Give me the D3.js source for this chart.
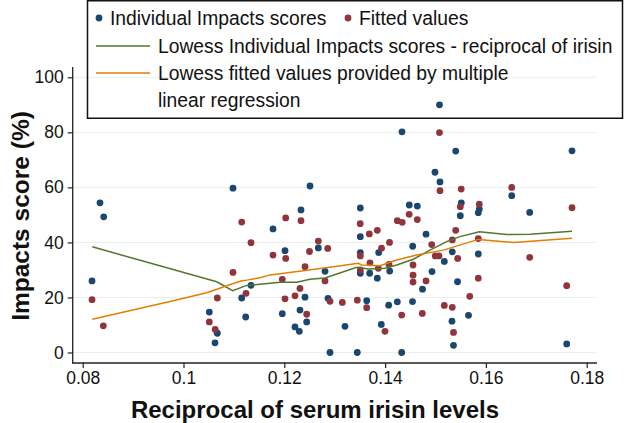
<!DOCTYPE html>
<html>
<head>
<meta charset="utf-8">
<script src="https://cdn.jsdelivr.net/npm/d3@7"></script>
<style>
  html, body { margin: 0; padding: 0; background: #fff; }
  svg { display: block; font-family: "Liberation Sans", Arial, Helvetica, sans-serif; }
</style>
</head>
<body>
<svg id="chart" width="626" height="423"></svg>
<script>
// ---- Data ----
const xTicks = [0.08, 0.10, 0.12, 0.14, 0.16, 0.18];
const xTickLabels = ["0.08", "0.1", "0.12", "0.14", "0.16", "0.18"];
const yTicks = [0, 20, 40, 60, 80, 100];
const yTickLabels = ["0", "20", "40", "60", "80", "100"];

// Individual Impacts scores: [reciprocal of irisin, score]
const impactsX = [0.08185,0.08343,0.08417,0.10982,0.11339,0.11155,0.10512,0.10671,0.10625,0.11234,
  0.12014,0.11960,0.12411,0.12311,0.12444,0.12212,0.12298,0.12510,0.12331,0.11776,
  0.12675,0.12808,0.12867,0.13204,0.12907,0.13508,0.13508,0.13508,0.13508,0.13448,
  0.13635,0.13694,0.13845,0.13873,0.13925,0.14091,0.14071,0.14242,0.14329,0.14335,
  0.14480,0.14639,0.14548,0.14544,0.14812,0.14742,0.14931,0.15079,0.14990,0.15089,
  0.15175,0.15333,0.15401,0.15512,0.15492,0.15437,0.15327,0.15357,0.15655,0.15869,
  0.15849,0.15849,0.16512,0.16869,0.17708,0.17603];
const impactsY = [26.0,54.4,49.3,59.7,24.4,19.8,14.7,7.0,3.5,12.9,
  37.0,14.1,20.1,15.4,11.1,9.3,7.7,60.5,51.8,44.9,
  38.0,29.5,19.7,9.5,0,52.5,42.1,36.3,28.8,0,
  18.8,28.8,27.0,36.3,10.2,29.6,17.2,18.4,0,80.2,
  53.6,53.2,38.6,18.5,43.0,23.0,29.4,90.0,65.5,62.0,
  33.1,36.6,73.2,54.4,49.7,25.7,11.4,2.6,13.5,52.1,
  50.8,35.8,57.0,50.9,73.3,3.1];

// Fitted values
const fittedX = [0.08185,0.08409,0.11155,0.11339,0.10982,0.11240,0.10671,0.10512,0.10629,0.11776,
  0.12028,0.12411,0.11960,0.12014,0.12212,0.12311,0.12444,0.12028,0.12331,0.12500,
  0.12675,0.12861,0.12808,0.12907,0.13151,0.13448,0.13506,0.13508,0.13508,0.13687,
  0.13845,0.13700,0.13865,0.13635,0.13929,0.14087,0.14077,0.13998,0.14242,0.14339,
  0.14478,0.14639,0.14329,0.14554,0.14554,0.14554,0.14812,0.14738,0.14925,0.15079,
  0.15089,0.14996,0.15069,0.15175,0.15333,0.15401,0.15440,0.15333,0.15357,0.15510,
  0.15492,0.15679,0.15849,0.15869,0.15849,0.16512,0.16869,0.17708,0.17603];
const fittedY = [19.2,9.7,47.4,39.9,29.1,21.5,19.8,11.1,8.4,35.4,
  34.2,31.2,26.6,19.5,20.6,23.3,13.9,48.9,47.9,36.7,
  40.5,37.8,26.0,18.6,18.2,19.0,46.8,35.1,30.0,43.1,
  44.4,32.6,30.6,16.3,37.9,40.0,32.0,7.7,47.9,47.3,
  50.2,48.3,13.6,31.8,28.1,25.6,26.0,14.2,39.2,79.9,
  58.8,35.1,35.1,17.1,40.9,44.4,34.2,16.4,7.3,59.4,
  53.0,20.4,41.4,53.9,27.0,60.0,34.6,52.6,24.3];

// Lowess of individual impacts scores
const lowessImpX = [0.08190,0.10659,0.10976,0.11240,0.11518,0.11915,0.12246,0.12510,0.12808,0.13437,
  0.13667,0.13998,0.14230,0.14560,0.14891,0.15222,0.15486,0.15869,0.16413,0.16875,0.17708];
const lowessImpY = [38.4,25.7,22.5,24.3,24.8,25.5,25.5,26.6,27.1,31.0,
  30.3,30.6,31.8,33.9,37.2,40.3,42.1,43.9,42.9,43.0,44.1];

// Lowess of fitted values
const lowessFitX = [0.08190,0.09732,0.10460,0.10591,0.10988,0.11155,0.11254,0.11518,0.11716,0.12377,
  0.12972,0.13468,0.13536,0.13899,0.14230,0.14627,0.15155,0.15849,0.16544,0.17708];
const lowessFitY = [12.1,18.5,21.7,22.5,25.1,26.1,26.3,27.2,28.2,29.7,
  31.2,32.4,31.8,31.5,33.6,35.4,37.2,41.1,40.0,41.5];

const legendLabels = ["Individual Impacts scores", "Fitted values",
  "Lowess Individual Impacts scores - reciprocal of irisin",
  ["Lowess fitted values provided by multiple", "linear regression"]];

// ---- Styling ----
const navy = "#1a476f", maroon = "#90353b", green = "#55752f", orange = "#e37e00";

const svg = d3.select("#chart");
const plot = {left: 72.7, right: 597, top: 67, bottom: 363};

const x = d3.scaleLinear().domain([0.08, 0.18]).range([82.7, 586.7]);
const y = d3.scaleLinear().domain([0, 100]).range([352.5, 77.3]);

// gridlines
svg.append("g").selectAll("line").data(yTicks).join("line")
  .attr("x1", plot.left).attr("x2", plot.right)
  .attr("y1", d => y(d)).attr("y2", d => y(d))
  .attr("stroke", "#e7eff1").attr("stroke-width", 1);

// legend box (no fill so plot shows through)
const lg = svg.append("g");
lg.append("rect").attr("x", 87.5).attr("y", 0.75).attr("width", 535).attr("height", 117.5)
  .attr("fill", "none").attr("stroke", "#111").attr("stroke-width", 1.5);

// axes
const yAxis = d3.axisLeft(y).tickValues(yTicks).tickFormat((d, i) => yTickLabels[i])
  .tickSize(5).tickPadding(4);
const gy = svg.append("g").attr("transform", `translate(${plot.left},0)`).call(yAxis);
gy.select(".domain").remove();
gy.append("line").attr("x1", 0).attr("x2", 0).attr("y1", plot.top).attr("y2", plot.bottom + 0.5)
  .attr("stroke", "#222").attr("stroke-width", 1.3);

const xAxis = d3.axisBottom(x).tickValues(xTicks).tickFormat((d, i) => xTickLabels[i])
  .tickSize(5).tickPadding(4);
const gx = svg.append("g").attr("transform", `translate(0,${plot.bottom})`).call(xAxis);
gx.select(".domain").remove();
gx.append("line").attr("x1", plot.left - 0.5).attr("x2", plot.right).attr("y1", 0).attr("y2", 0)
  .attr("stroke", "#222").attr("stroke-width", 1.3);

[gx, gy].forEach(g => {
  g.selectAll(".tick line").attr("stroke", "#222").attr("stroke-width", 1.2);
  g.selectAll(".tick text").attr("fill", "#111").style("font-size", "17.5px")
    .style("font-family", '"Liberation Sans", Arial, sans-serif');
});

// axis titles
svg.append("text").attr("x", 315).attr("y", 418).attr("text-anchor", "middle")
  .style("font-size", "24px").style("font-weight", "bold").attr("fill", "#111")
  .text("Reciprocal of serum irisin levels");
svg.append("text").attr("transform", "translate(29,216) rotate(-90)").attr("text-anchor", "middle")
  .style("font-size", "24.5px").style("font-weight", "bold").attr("fill", "#111")
  .text("Impacts score (%)");

// points
const impacts = impactsX.map((v, i) => [v, impactsY[i]]);
const fitted = fittedX.map((v, i) => [v, fittedY[i]]);
svg.append("g").selectAll("circle").data(impacts).join("circle")
  .attr("cx", d => x(d[0])).attr("cy", d => y(d[1])).attr("r", 3.4).attr("fill", navy);
svg.append("g").selectAll("circle").data(fitted).join("circle")
  .attr("cx", d => x(d[0])).attr("cy", d => y(d[1])).attr("r", 3.4).attr("fill", maroon);

// lowess lines
const line = d3.line().x(d => x(d[0])).y(d => y(d[1]));
svg.append("path").datum(lowessImpX.map((v, i) => [v, lowessImpY[i]]))
  .attr("d", line).attr("fill", "none").attr("stroke", green).attr("stroke-width", 1.5);
svg.append("path").datum(lowessFitX.map((v, i) => [v, lowessFitY[i]]))
  .attr("d", line).attr("fill", "none").attr("stroke", orange).attr("stroke-width", 1.5);

// legend content
const lfs = "19.3px";
lg.append("circle").attr("cx", 99).attr("cy", 18).attr("r", 3.4).attr("fill", navy);
lg.append("text").attr("x", 110).attr("y", 25).style("font-size", lfs).attr("fill", "#111").text(legendLabels[0]);
lg.append("circle").attr("cx", 348).attr("cy", 18).attr("r", 3.4).attr("fill", maroon);
lg.append("text").attr("x", 359).attr("y", 25).style("font-size", lfs).attr("fill", "#111").text(legendLabels[1]);
lg.append("line").attr("x1", 96).attr("x2", 150).attr("y1", 46).attr("y2", 46)
  .attr("stroke", green).attr("stroke-width", 1.5);
lg.append("text").attr("x", 158).attr("y", 53).style("font-size", lfs).attr("fill", "#111").text(legendLabels[2]);
lg.append("line").attr("x1", 96).attr("x2", 150).attr("y1", 73).attr("y2", 73)
  .attr("stroke", orange).attr("stroke-width", 1.5);
lg.append("text").attr("x", 158).attr("y", 80).style("font-size", lfs).attr("fill", "#111").text(legendLabels[3][0]);
lg.append("text").attr("x", 158).attr("y", 107).style("font-size", lfs).attr("fill", "#111").text(legendLabels[3][1]);
</script>
</body>
</html>
